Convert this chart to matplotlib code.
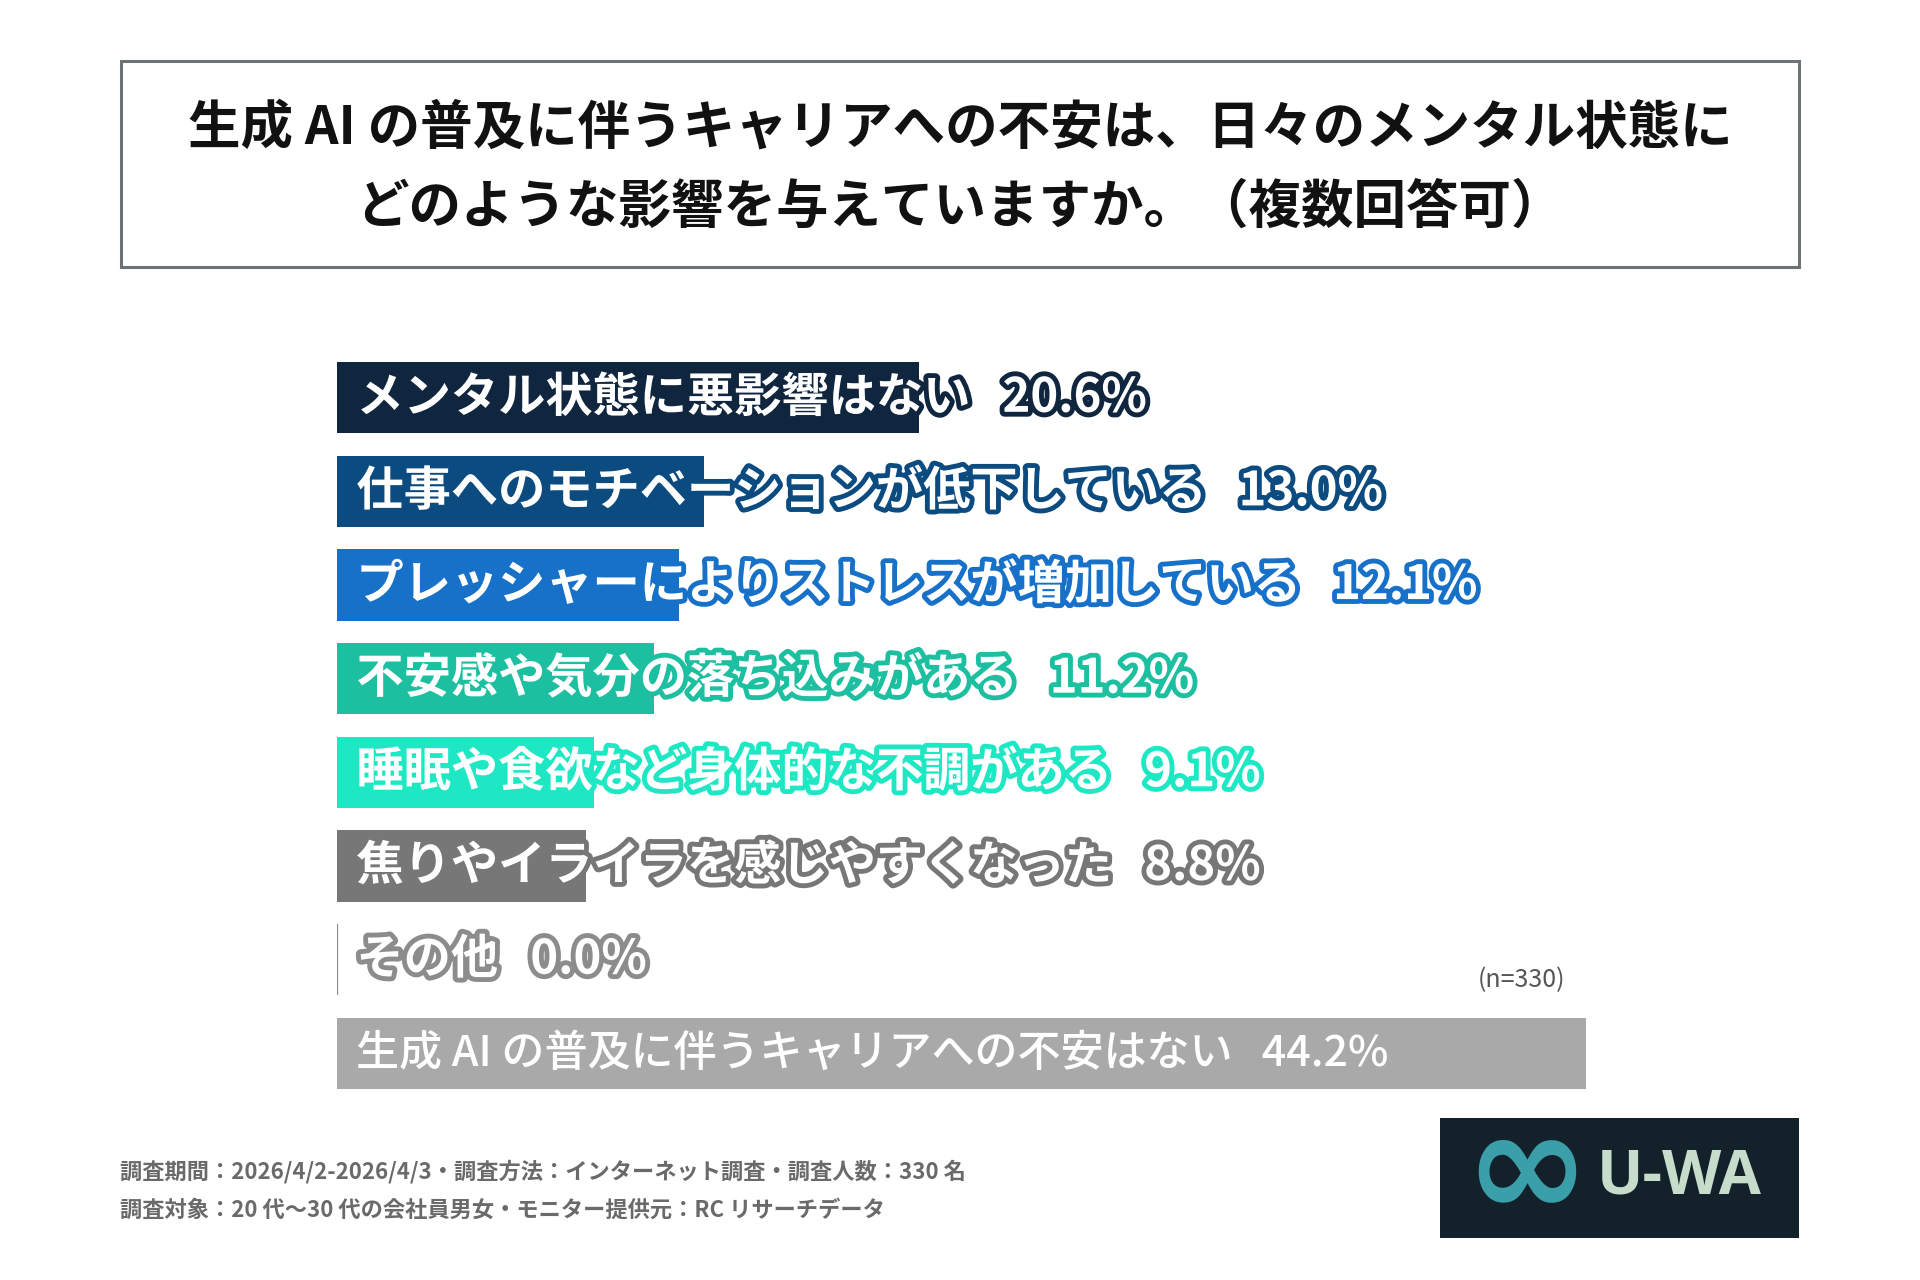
import matplotlib
matplotlib.use("Agg")
import matplotlib.pyplot as plt
import matplotlib.patheffects as pe
from matplotlib.patches import Rectangle

plt.rcParams['font.family'] = ['Noto Sans CJK JP', 'DejaVu Sans']

# data
labels = ["メンタル状態に悪影響はない", "仕事へのモチベーションが低下している",
          "プレッシャーによりストレスが増加している", "不安感や気分の落ち込みがある",
          "睡眠や食欲など身体的な不調がある", "焦りやイライラを感じやすくなった",
          "その他", "生成 AI の普及に伴うキャリアへの不安はない"]
values = [20.6, 13.0, 12.1, 11.2, 9.1, 8.8, 0.0, 44.2]
colors = ["#10263f", "#0b4b80", "#1771c8", "#1cbf9f", "#1ee8c4",
          "#777777", "#8c8c8c", "#a9a9a9"]

title = "生成 AI の普及に伴うキャリアへの不安は、日々のメンタル状態に\nどのような影響を与えていますか。（複数回答可）"
notes = ["調査期間：2026/4/2-2026/4/3・調査方法：インターネット調査・調査人数：330 名",
         "調査対象：20 代～30 代の会社員男女・モニター提供元：RC リサーチデータ"]

W, H = 1920, 1280
fig = plt.figure(figsize=(W / 100, H / 100), dpi=100)
fig.patch.set_facecolor("white")


def fx(px):
    return px / W


def fy(py):
    return 1 - py / H


# title box
fig.patches.append(Rectangle((fx(121), fy(267)), fx(1799) - fx(121), fy(61) - fy(267),
                             transform=fig.transFigure, fill=False,
                             edgecolor="#6d7275", linewidth=2.2))
fig.text(0.5, fy(168), title, ha="center", va="center", fontsize=37.8,
         fontweight="bold", color="#111111", linespacing=1.62)

# bars
ax = fig.add_axes([fx(337), fy(1100), fx(1800) - fx(337), (1100 - 351) / H])
ypos = list(range(len(labels)))
ax.barh(ypos, values, height=0.76, color=colors, edgecolor=colors,
        linewidth=[0, 0, 0, 0, 0, 0, 1.6, 0])
ax.set_xlim(0, (1800 - 337) / 28.26)
ax.set_ylim(len(labels) - 0.5, -0.5)
ax.axis("off")

for i, (lab, v, c) in enumerate(zip(labels, values, colors)):
    txt = "%s   %.1f%%" % (lab, v)
    if i == len(labels) - 1:
        ax.annotate(txt, xy=(0, i), xytext=(14, 0), textcoords="offset points",
                    va="center", ha="left", fontsize=31, color="white",
                    fontweight="medium")
    else:
        ax.annotate(txt, xy=(0, i), xytext=(14, 0), textcoords="offset points",
                    va="center", ha="left", fontsize=34, color="white",
                    fontweight="bold",
                    path_effects=[pe.withStroke(linewidth=7, foreground=c)])

fig.text(fx(1565), fy(980), "(n=330)", ha="right", va="center", fontsize=18,
         color="#555555")

# footer notes
fig.text(fx(120), fy(1172), notes[0], ha="left", va="center", fontsize=16,
         color="#6a6a6a", fontweight="bold")
fig.text(fx(120), fy(1210), notes[1], ha="left", va="center", fontsize=16,
         color="#6a6a6a", fontweight="bold")

# logo
fig.patches.append(Rectangle((fx(1440), fy(1238)), fx(1799) - fx(1440), fy(1118) - fy(1238),
                             transform=fig.transFigure, facecolor="#13212b",
                             edgecolor="none"))
fig.text(fx(1527), fy(1174), "∞", ha="center", va="center", fontsize=108,
         color="#3a9fa8", family="DejaVu Sans", fontweight="bold")
fig.text(fx(1597), fy(1178), "U-WA", ha="left", va="center", fontsize=44,
         color="#c8dccb", family="Open Sans", fontweight="bold")

fig.savefig("out.png", dpi=100, facecolor="white")
